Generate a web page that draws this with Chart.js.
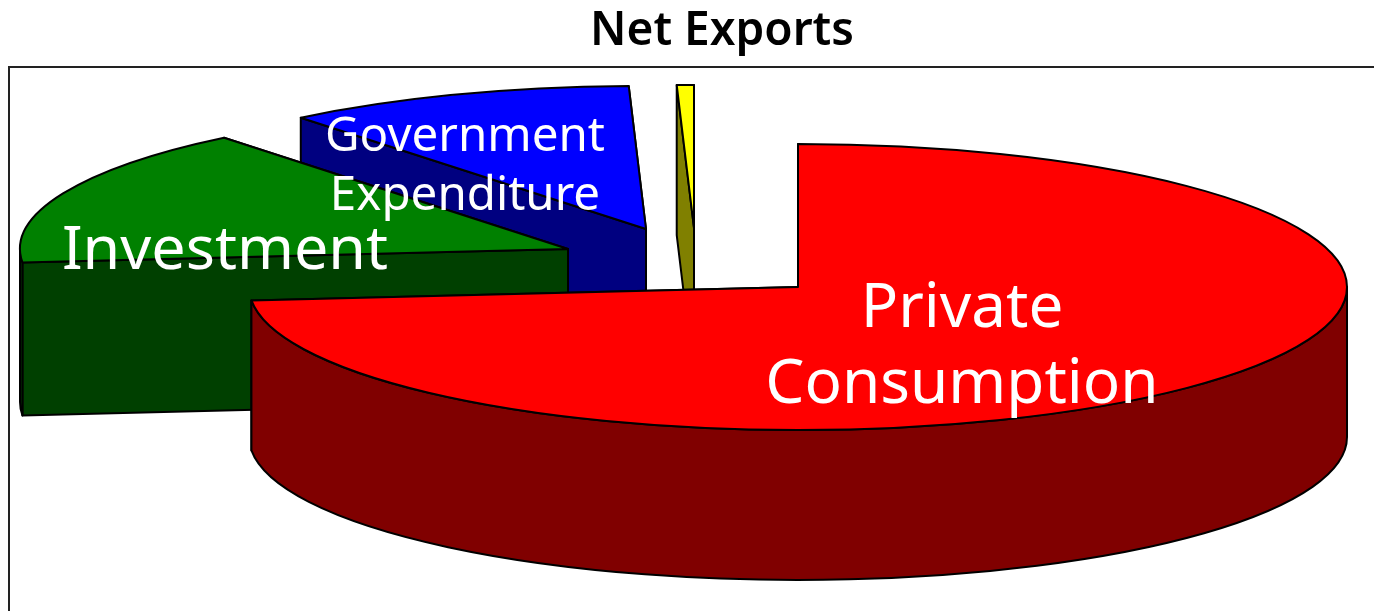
<!DOCTYPE html>
<html>
<head>
<meta charset="utf-8">
<style>html,body{margin:0;padding:0;background:#fff;overflow:hidden}canvas{display:block}</style>
<script src="https://cdn.jsdelivr.net/npm/chart.js@4"></script>
</head>
<body>
<canvas id="c" width="1374" height="611"></canvas>
<script>
const titleText = 'Net Exports';
const categories = ['Private Consumption', 'Investment', 'Government Expenditure', 'Net Exports'];
const shares = [73.5, 15.7, 10.3, 0.5];
const topColors = ['#ff0000', '#008000', '#0000ff', '#ffff00'];
const sideColors = ['#800000', '#004000', '#000080', '#808000'];

// Projection of the library's arcs onto the tilted disc
const sliceCentres = [[798, 287], [568, 249], [646, 229], [694, 228]];
const sliceDepths = [150, 153, 150, 150];
const sliceRadiiX = [549, 548, 550, 550];
const RY = 143;

const FONT = '"Noto Sans", sans-serif';
const labelBlocks = [
  {lines: ['Private', 'Consumption'], x: 962, ys: [327, 403], size: 62},
  {lines: ['Investment'], x: 225, ys: [269], size: 61},
  {lines: ['Government', 'Expenditure'], x: 465, ys: [151, 210], size: 47.5},
  {lines: [], x: 0, ys: [], size: 0}
];

function quad(ctx, a, b, d) {
  ctx.beginPath();
  ctx.moveTo(a[0], a[1]);
  ctx.lineTo(b[0], b[1]);
  ctx.lineTo(b[0], b[1] + d);
  ctx.lineTo(a[0], a[1] + d);
  ctx.closePath();
}

const disc3d = {
  id: 'disc3d',
  beforeDatasetDraw(chart, args) {
    const ctx = chart.ctx;
    const arcs = chart.getDatasetMeta(args.index).data;
    ctx.save();
    // frame
    ctx.strokeStyle = '#222';
    ctx.lineWidth = 2;
    ctx.strokeRect(9, 67, 1500, 800);
    ctx.lineJoin = 'round';
    ctx.strokeStyle = '#000';
    ctx.lineWidth = 2;
    for (let i = arcs.length - 1; i >= 0; i--) {
      const s = arcs[i].startAngle, e = arcs[i].endAngle;
      const [cx, cy] = sliceCentres[i];
      const d = sliceDepths[i];
      const RX = sliceRadiiX[i];
      const pS = [cx + RX * Math.cos(s), cy + RY * Math.sin(s)];
      const pE = [cx + RX * Math.cos(e), cy + RY * Math.sin(e)];
      const tip = [cx, cy];
      ctx.fillStyle = sideColors[i];
      // radial faces, back one first
      quad(ctx, tip, pE, d); ctx.fill(); ctx.stroke();
      quad(ctx, tip, pS, d); ctx.fill(); ctx.stroke();
      // curved outer wall, the part that faces the viewer
      const ranges = [[0, Math.PI], [2 * Math.PI, 3 * Math.PI]];
      for (const [lo, hi] of ranges) {
        const a = Math.max(s, lo), b = Math.min(e, hi);
        if (b > a) {
          ctx.beginPath();
          ctx.ellipse(cx, cy, RX, RY, 0, a, b);
          ctx.ellipse(cx, cy + d, RX, RY, 0, b, a, true);
          ctx.closePath();
          ctx.fill(); ctx.stroke();
        }
      }
      // top face
      ctx.fillStyle = topColors[i];
      ctx.beginPath();
      ctx.moveTo(cx, cy);
      ctx.ellipse(cx, cy, RX, RY, 0, s, e);
      ctx.closePath();
      ctx.fill(); ctx.stroke();
    }
    // labels
    ctx.fillStyle = '#fff';
    ctx.textAlign = 'center';
    ctx.textBaseline = 'alphabetic';
    labelBlocks.forEach(b => {
      ctx.font = b.size + 'px ' + FONT;
      b.lines.forEach((t, k) => ctx.fillText(t, b.x, b.ys[k]));
    });
    ctx.restore();
    return false;
  }
};

new Chart(document.getElementById('c'), {
  type: 'pie',
  data: {
    labels: categories,
    datasets: [{data: shares, backgroundColor: topColors, borderColor: '#000', borderWidth: 2}]
  },
  options: {
    responsive: false,
    animation: false,
    layout: {padding: {left: 70}},
    plugins: {
      legend: {display: false},
      tooltip: {enabled: false},
      title: {
        display: true,
        text: titleText,
        color: '#000',
        font: {family: FONT, size: 46, weight: '600', lineHeight: 1.2},
        padding: {top: 4, bottom: 4}
      }
    }
  },
  plugins: [disc3d]
});
</script>
</body>
</html>
